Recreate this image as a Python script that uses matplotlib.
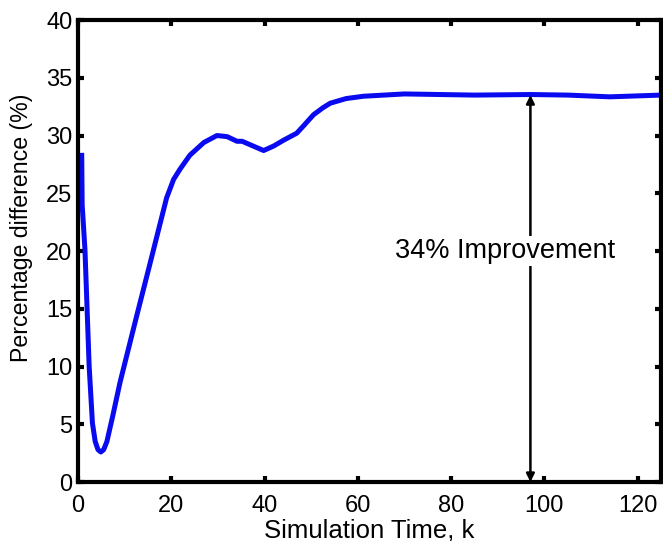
import numpy as np
import matplotlib.pyplot as plt

plt.rcParams.update({
    "font.family": ["Liberation Sans", "DejaVu Sans"],
    "font.size": 17,
})

# Simulation time k và phần trăm chênh lệch
sim_time = [0.8, 0.9, 1.5, 2.4, 3.1, 3.7, 4.3, 4.9, 5.5, 6.2, 7.5, 9.0, 10.8,
            12.6, 15.5, 19.0, 20.5, 21.9, 24.0, 27.0, 29.8, 32.0, 34.1, 35.2,
            37.5, 39.8, 42.0, 44.1, 46.9, 48.5, 50.5, 52.5, 54.1, 57.5, 61.2,
            70.0, 85.0, 97.0, 105.0, 114.0, 125.0]
pct_diff = [28.5, 24.0, 20.1, 10.0, 5.1, 3.5, 2.8, 2.6, 2.8, 3.5, 5.8, 8.6,
            11.5, 14.4, 19.0, 24.6, 26.2, 27.1, 28.3, 29.4, 30.0, 29.9, 29.5,
            29.5, 29.1, 28.7, 29.1, 29.6, 30.2, 30.9, 31.8, 32.4, 32.8, 33.2,
            33.4, 33.6, 33.5, 33.55, 33.5, 33.35, 33.5]

arrow_x = 97.0
arrow_top = 33.5
note = "34% Improvement"

fig = plt.figure(figsize=(6.63, 5.41), dpi=100)
ax = fig.add_axes([0.1176, 0.109, 0.8794, 0.854])

ax.plot(sim_time, pct_diff, color="#0a0af0", linewidth=3.6, solid_capstyle="butt")

# mũi tên hai đầu + chú thích
ax.annotate("", xy=(arrow_x, arrow_top), xytext=(arrow_x, 0),
            arrowprops=dict(arrowstyle="<|-|>", color="black", lw=1.8,
                            mutation_scale=12, shrinkA=0, shrinkB=0))
ax.text(91.6, 20, note, ha="center", va="center", fontsize=19.5,
        bbox=dict(facecolor="white", edgecolor="none", pad=1.5))

ax.set_xlim(0, 125)
ax.set_ylim(0, 40)
ax.set_xticks(range(0, 121, 20))
ax.set_yticks(range(0, 41, 5))
ax.tick_params(axis="x", pad=9)
ax.tick_params(axis="y", pad=4)
ax.tick_params(direction="in", length=4, width=3, top=True, right=True)
for s in ax.spines.values():
    s.set_linewidth(3)

ax.set_xlabel("Simulation Time, k", fontsize=18.5)
ax.set_ylabel("Percentage difference (%)", fontsize=16.7)
ax.xaxis.set_label_coords(0.5, -0.078)
ax.yaxis.set_label_coords(-0.077, 0.55)

fig.savefig("out.png", dpi=100)
